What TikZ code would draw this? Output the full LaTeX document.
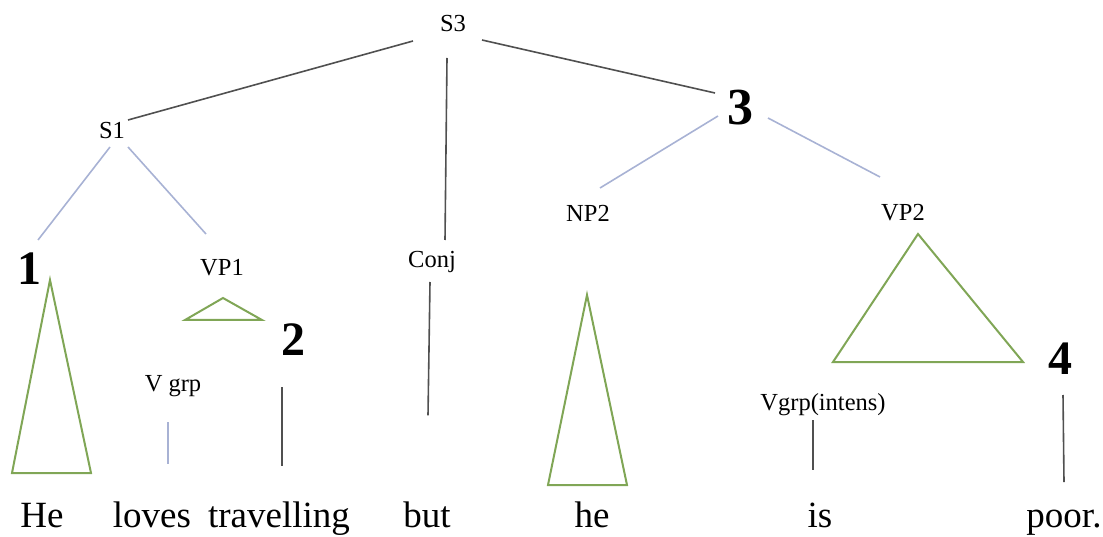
\documentclass[tikz,border=0pt]{standalone}
\usepackage{fontspec}
\setmainfont{Liberation Serif}
\newfontfamily\tms{Liberation Serif}
\usetikzlibrary{calc}

\definecolor{linegray}{RGB}{80,80,80}
\definecolor{paleblue}{RGB}{168,178,212}
\definecolor{trigreen}{RGB}{128,166,86}

\begin{document}
\begin{tikzpicture}[x=1pt, y=-1pt,
	lab/.style={inner sep=0pt, font=\tms\fontsize{24.5}{27}\selectfont},
	num/.style={inner sep=0pt, font=\tms\fontsize{48}{50}\selectfont\bfseries},
	word/.style={inner sep=0pt, anchor=base, font=\tms\fontsize{37}{40}\selectfont},
	dark/.style={linegray, line width=1.6pt},
	pale/.style={paleblue, line width=1.6pt},
	tri/.style={trigreen, line width=2pt, line join=miter}]
	
	% ====== frame ======
	\useasboundingbox (0,0) rectangle (1103,537);
	
	% ====== category labels ======
	\node[lab] (S3)    at (453,24)  {S3};
	\node[lab] (S1)    at (112,131) {S1};
	\node[lab] (Conj)  at (432,262) {Conj};
	\node[lab] (NP2)   at (588,213) {NP2};
	\node[lab] (VP2)   at (903,213) {VP2};
	\node[lab] (VP1)   at (222,268) {VP1};
	\node[lab] (vgrp)  at (173,386) {V grp};
	\node[lab] (vgrpi) at (823,405) {Vgrp(intens)};
	
	% ====== bold numbers ======
	\node[num] (one)   at (29,269)   {1};
	\node[num] (two)   at (293,340)  {2};
	\node[num, font=\tms\fontsize{52}{54}\selectfont\bfseries] (three) at (740,108) {3};
	\node[num] (four)  at (1060,359) {4};
	
	% ====== the sentence ======
	\node[word] (He)    at (42,527)   {He};
	\node[word] (loves) at (152,527)  {loves};
	\node[word] (trav)  at (279,527)  {travelling};
	\node[word] (but)   at (427,527)  {but};
	\node[word] (he)    at (592,527)  {he};
	\node[word] (is)    at (820,527)  {is};
	\node[word] (poor)  at (1064,527) {poor.};
	
	% ====== branches from S3 ======
	\draw[dark] ($(S3)+(-40,17)$) -- ($(S1)+(16,-11)$);
	\draw[dark] ($(S3)+(-6,34)$)  -- ($(Conj)+(13,-22)$);
	\draw[dark] ($(S3)+(29,16)$)  -- ($(three)+(-25,-15)$);
	
	% ====== branches from S1 and 3 ======
	\draw[pale] ($(S1)+(-2,16)$)   -- ($(one)+(9,-29)$);
	\draw[pale] ($(S1)+(16,16)$)   -- ($(VP1)+(-16,-34)$);
	\draw[pale] ($(three)+(-22,8)$) -- ($(NP2)+(12,-25)$);
	\draw[pale] ($(three)+(28,10)$) -- ($(VP2)+(-23,-36)$);
	
	% ====== lines down to the words ======
	\draw[dark] ($(Conj)+(-2,20)$)  -- ($(but)+(1,-99)$);
	\draw[pale] ($(vgrp)+(-5,36)$)  -- ($(loves)+(16,-50)$);
	\draw[dark] ($(two)+(-11,47)$)  -- ($(trav)+(3,-52)$);
	\draw[dark] ($(vgrpi)+(-10,15)$) -- ($(is)+(-7,-45)$);
	\draw[dark] ($(four)+(3,36)$)   -- ($(poor)+(0,-40)$);
	
	% ====== triangles ======
	\draw[tri] (50,280) -- (12,473) -- (91,473) -- cycle;
	\draw[tri] (223,298) -- (185,320) -- (262,320) -- cycle;
	\draw[tri] (587,295) -- (548,485) -- (627,485) -- cycle;
	\draw[tri] (918,234) -- (833,362) -- (1023,362) -- cycle;
\end{tikzpicture}
\end{document}
